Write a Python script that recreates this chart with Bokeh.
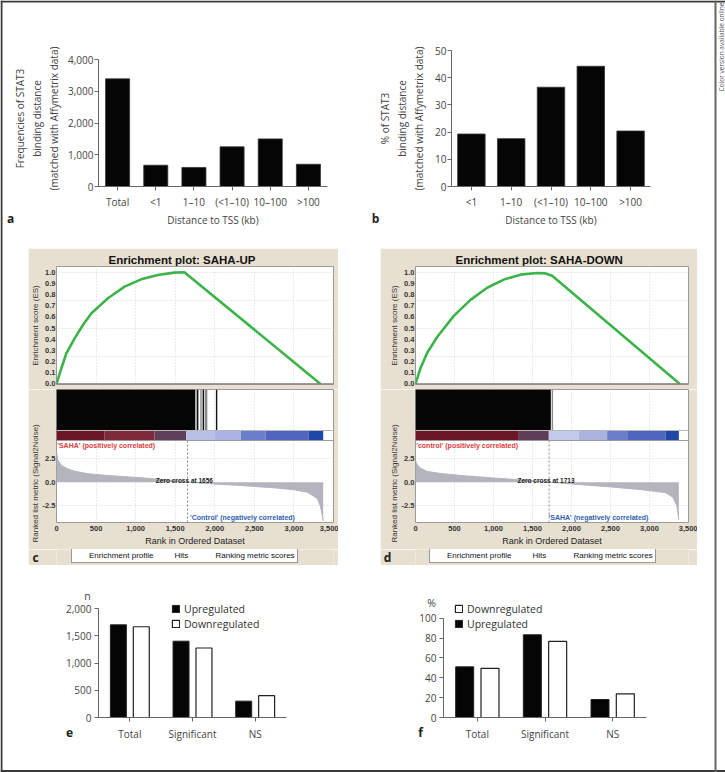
import math
from bokeh.plotting import figure
from bokeh.models import (Range1d, FactorRange, Label, Legend, LegendItem, Span, Spacer, Title,
                          NumeralTickFormatter, FixedTicker, ColumnDataSource)
from bokeh.layouts import row, column
from bokeh.transform import dodge
from bokeh.embed import file_html
from bokeh.resources import INLINE

# ---------------- data ----------------
a_categories = ["Total", "<1", "1–10", "(<1–10)", "10–100", ">100"]
a_counts = [3390, 670, 600, 1250, 1500, 700]
a_yticks = [0, 1000, 2000, 3000, 4000]

b_categories = ["<1", "1–10", "(<1–10)", "10–100", ">100"]
b_percent = [19.3, 17.6, 36.5, 44.2, 20.4]
b_yticks = [0, 10, 20, 30, 40, 50]

ef_categories = ["Total", "Significant", "NS"]
e_up = [1700, 1400, 300]
e_down = [1665, 1275, 400]
e_yticks = [0, 500, 1000, 1500, 2000]
f_up = [51, 83.3, 18.1]
f_down = [49.5, 76.6, 23.8]
f_yticks = [0, 20, 40, 60, 80, 100]

rank_ticks = [0, 500, 1000, 1500, 2000, 2500, 3000, 3500]
es_ticks = [0.0, 0.1, 0.2, 0.3, 0.4, 0.5, 0.6, 0.7, 0.8, 0.9, 1.0]
es_grid = [0.25, 0.5, 0.75, 1.0]
metric_ticks = [-2.5, 0.0, 2.5]

c_es_rank = [0, 63, 126, 231, 336, 441, 650, 860, 1070, 1280, 1490, 1616, 3336]
c_es_score = [0.0, 0.143, 0.277, 0.41, 0.53, 0.634, 0.768, 0.872, 0.937, 0.976, 0.997, 1.0, 0.0]
c_hit_block = [0, 1750]
c_hit_lines = [1763, 1784, 1826, 1855, 1880, 1897, 2023]
c_hit_colors = ["#8a8a8a", "#111111", "#8a8a8a", "#111111", "#8a8a8a", "#8a8a8a", "#111111"]
c_band_edges = [0, 608, 1238, 1637, 1994, 2329, 2644, 3189, 3370]
c_band_colors = ["#6b1627", "#7d2a3b", "#5f4058", "#b9c0e6", "#a9b2e1", "#6a7ecb", "#5065bd", "#1f47a7"]
c_metric_rank = [0, 15, 63, 150, 231, 400, 650, 1070, 1490, 1656, 2000, 2329, 2749, 3000, 3169, 3295, 3336, 3370]
c_metric = [3.2, 2.4, 1.78, 1.4, 1.17, 0.9, 0.71, 0.47, 0.18, 0.0, -0.2, -0.35, -0.6, -0.8, -1.06, -1.73, -2.6, -4.1]
c_zero_cross = 1656

d_es_rank = [0, 64, 150, 278, 491, 705, 919, 1132, 1346, 1560, 1667, 1752, 3389]
d_es_score = [0.0, 0.141, 0.28, 0.42, 0.61, 0.753, 0.862, 0.935, 0.979, 0.994, 0.99, 0.97, 0.0]
d_hit_block = [0, 1735]
d_hit_lines = [1755]
d_hit_colors = ["#8a8a8a"]
d_band_edges = [0, 1325, 1709, 2094, 2457, 2714, 3205, 3376]
d_band_colors = ["#6b1627", "#5f3d58", "#c3c9ea", "#aab2e0", "#6a7ecb", "#5065bd", "#1f47a7"]
d_metric_rank = [0, 20, 60, 150, 300, 600, 1000, 1400, 1713, 2100, 2500, 2900, 3200, 3300, 3350, 3376]
d_metric = [2.3, 1.9, 1.5, 1.15, 0.95, 0.7, 0.45, 0.22, 0.0, -0.25, -0.5, -0.8, -1.1, -1.6, -2.5, -4.0]
d_zero_cross = 1713

# panel letters and unit captions (text, page position in px)
panel_letters = ["a", "b", "c", "d", "e", "f"]
letter_pos = [(10, 218), (375, 218), (35, 557), (387, 557), (69, 732), (420, 732)]
unit_texts = ["n", "%"]
unit_pos = [(87, 595), (431, 602)]

# ---------------- style ----------------
FONT = "Open Sans"
GFONT = "Liberation Sans"
AX = "#666666"
TXT = "#444444"
BEIGE = "#e7e0d1"
PAGE_W, PAGE_H = 725, 772


def style_bar_axes(p):
    p.xgrid.visible = False
    p.ygrid.visible = False
    p.outline_line_color = None
    for ax in (p.xaxis[0], p.yaxis[0]):
        ax.axis_line_color = AX
        ax.major_tick_line_color = AX
        ax.major_tick_out = 4
        ax.major_tick_in = 0
        ax.minor_tick_out = 0
        ax.minor_tick_in = 0
        ax.major_label_text_font = FONT
        ax.major_label_text_font_size = "10px"
        ax.major_label_text_color = TXT
        ax.axis_label_text_font = FONT
        ax.axis_label_text_font_size = "10px"
        ax.axis_label_text_font_style = "normal"
        ax.axis_label_text_color = TXT
    p.xaxis[0].major_label_standoff = 4
    p.yaxis[0].major_label_standoff = 1


def simple_bar(cats, vals, yticks, width, mbl, mbr, frame_px, bar_w, ylabel, ylabel_stand):
    # both top-row panels share the same vertical frame (50..186 px)
    y_end = yticks[-1] * 136.0 / frame_px
    p = figure(x_range=FactorRange(*cats), y_range=Range1d(yticks[0], y_end),
               width=width, height=230, min_border_left=mbl, min_border_right=mbr,
               min_border_top=50, min_border_bottom=44,
               toolbar_location=None, output_backend="svg")
    p.vbar(x=cats, top=vals, width=bar_w, fill_color="#050505", line_color="#333333", line_width=0.8)
    style_bar_axes(p)
    p.yaxis.ticker = FixedTicker(ticks=yticks)
    p.yaxis.bounds = (yticks[0], yticks[-1])
    p.yaxis.formatter = NumeralTickFormatter(format="0,0")
    p.yaxis.axis_label = ylabel
    p.yaxis.axis_label_standoff = ylabel_stand
    p.xaxis.axis_label = "Distance to TSS (kb)"
    p.xaxis.axis_label_standoff = 1
    return p


fig_a = simple_bar(a_categories, a_counts, a_yticks, 350, 85, 33, 127, 0.63,
                   "Frequencies of STAT3\nbinding distance\n(matched with Affymetrix data)", 4)
fig_b = simple_bar(b_categories, b_percent, b_yticks, 339, 67, 64, 136, 0.69,
                   "% of STAT3\nbinding distance\n(matched with Affymetrix data)", 6)


def gsea_panel(title, title_offset, mbl, fw, mbr,
               es_rank, es_score, hit_block, hit_lines, hit_colors, band_edges, band_colors,
               m_rank, m_val, zero, pos_text, neg_text, neg_x, leg_x):
    col_w = mbl + fw + mbr
    xr = Range1d(rank_ticks[0], rank_ticks[-1])
    common = dict(width=col_w, x_range=xr, toolbar_location=None, output_backend="svg",
                  min_border_left=mbl, min_border_right=mbr, border_fill_color=BEIGE,
                  outline_line_color="#9a9a9a")

    def style_axis(ax, standoff=1):
        ax.axis_line_color = None
        ax.major_tick_out = 0
        ax.major_tick_in = 0
        ax.minor_tick_out = 0
        ax.minor_tick_in = 0
        ax.major_label_standoff = standoff
        ax.major_label_text_font = GFONT
        ax.major_label_text_font_size = "7.5px"
        ax.major_label_text_font_style = "bold"
        ax.major_label_text_color = "#333333"

    # ---- enrichment score
    es = figure(height=141, y_range=Range1d(-0.005, 1.052), x_axis_location=None,
                min_border_top=18, min_border_bottom=5, title=title, **common)
    es.title.align = "left"
    es.title.offset = title_offset
    es.title.standoff = 2
    es.title.text_font = GFONT
    es.title.text_font_size = "11.5px"
    es.title.text_font_style = "bold"
    es.title.text_color = "#111111"
    es.xgrid.ticker = FixedTicker(ticks=rank_ticks)
    es.ygrid.ticker = FixedTicker(ticks=es_grid)
    for g in (es.xgrid[0], es.ygrid[0]):
        g.grid_line_color = "#d4d4d4"
        g.grid_line_dash = "1 2"
    ya = es.yaxis[0]
    ya.ticker = FixedTicker(ticks=es_ticks)
    ya.formatter = NumeralTickFormatter(format="0.0")
    style_axis(ya)
    ya.axis_label = "Enrichment score (ES)"
    ya.axis_label_standoff = 2
    ya.axis_label_text_font = GFONT
    ya.axis_label_text_font_size = "8px"
    ya.axis_label_text_font_style = "normal"
    ya.axis_label_text_color = "#333333"
    es.add_layout(Span(location=0, dimension="width", line_color="#7a7a7a", line_width=1.5))
    es.line(es_rank, es_score, line_color="#3cb44a", line_width=2.6)

    # ---- hits, ranked colour bar and ranked list metric share one frame
    lo, hi = -4.29, 4.44                  # metric range shown in the lower 82 px
    per_px = (hi - lo) / 82.0
    cb_top = hi + 10 * per_px             # 10 px colour bar
    top = hi + 51 * per_px                # 41 px of hits above it
    rk = figure(height=160, y_range=Range1d(lo, top), min_border_top=0, min_border_bottom=27,
                **common)
    rk.xgrid.ticker = FixedTicker(ticks=rank_ticks)
    rk.xgrid.bounds = (lo, hi)
    rk.ygrid.ticker = FixedTicker(ticks=[-2.5, 2.5])
    for g in (rk.xgrid[0], rk.ygrid[0]):
        g.grid_line_color = "#d4d4d4"
        g.grid_line_dash = "1 2"
    rk.varea(x=m_rank, y1=0, y2=m_val, fill_color="#b4b4bc")
    rk.line(m_rank, m_val, line_color="#b4b4bc", line_width=1)
    rk.segment(x0=[zero], y0=[lo], x1=[zero], y1=[hi], line_color="#8a8a8a", line_width=1,
               line_dash="2 2")
    rk.quad(left=band_edges[:-1], right=band_edges[1:], bottom=hi, top=cb_top,
            fill_color=band_colors, line_color=None)
    rk.quad(left=[hit_block[0]], right=[hit_block[1]], bottom=cb_top, top=top,
            fill_color="#050505", line_color=None)
    rk.segment(x0=hit_lines, y0=cb_top, x1=hit_lines, y1=top, line_color=hit_colors, line_width=1.4)
    rk.add_layout(Span(location=hi, dimension="width", line_color="#9a9a9a", line_width=1))
    rk.add_layout(Span(location=cb_top, dimension="width", line_color="#b8b8b8", line_width=1))
    rk.add_layout(Label(x=m_rank[0] + 10, y=hi - 0.12, text=pos_text, text_font=GFONT,
                        text_font_size="7px", text_font_style="bold", text_color="#e03a3a",
                        text_baseline="top"))
    rk.add_layout(Label(x=neg_x, y=-3.76, text=neg_text, text_font=GFONT, text_font_size="7px",
                        text_font_style="bold", text_color="#2f5fb0", text_align="center",
                        text_baseline="middle"))
    rk.add_layout(Label(x=zero - 40, y=0.15, text="Zero cross at %d" % zero, text_font=GFONT,
                        text_font_size="6.5px", text_font_style="bold", text_color="#222222",
                        text_align="center", text_baseline="middle"))
    xa = rk.xaxis[0]
    xa.ticker = FixedTicker(ticks=rank_ticks)
    xa.formatter = NumeralTickFormatter(format="0,0")
    style_axis(xa, 3)
    xa.axis_label = "Rank in Ordered Dataset"
    xa.axis_label_standoff = 2
    xa.axis_label_text_font = GFONT
    xa.axis_label_text_font_size = "9px"
    xa.axis_label_text_font_style = "normal"
    xa.axis_label_text_color = "#222222"
    yb = rk.yaxis[0]
    yb.ticker = FixedTicker(ticks=metric_ticks)
    yb.bounds = (lo, hi)
    yb.formatter = NumeralTickFormatter(format="0.0")
    style_axis(yb)
    rk.add_layout(Title(text="Ranked list metric (Signal2Noise)", align="left", offset=-20,
                        standoff=0, text_font=GFONT, text_font_size="8px",
                        text_font_style="normal", text_color="#333333"), "left")

    # ---- legend strip
    lg = figure(width=col_w, height=16, x_range=Range1d(0, 1), y_range=Range1d(0, 1),
                x_axis_location=None, y_axis_location=None, min_border_left=mbl,
                min_border_right=mbr, min_border_top=0, min_border_bottom=0,
                toolbar_location=None, output_backend="svg", border_fill_color=BEIGE,
                background_fill_color=BEIGE, outline_line_color=None)
    lg.xgrid.visible = False
    lg.ygrid.visible = False
    l_es = lg.line(x=[], y=[], line_color="#3cb44a", line_width=2)
    l_hit = lg.line(x=[], y=[], line_color="#222222", line_width=1.5)
    l_met = lg.line(x=[], y=[], line_color="#c4c4cc", line_width=1.5)
    lg.add_layout(Legend(items=[LegendItem(label="Enrichment profile", renderers=[l_es]),
                                LegendItem(label="Hits", renderers=[l_hit]),
                                LegendItem(label="Ranking metric scores", renderers=[l_met])],
                         orientation="horizontal", location=(leg_x, 2),
                         label_text_font=GFONT, label_text_font_size="8px",
                         label_text_color="#111111", glyph_width=13, glyph_height=8,
                         label_height=8, label_standoff=2, spacing=6, padding=2, margin=0,
                         border_line_color="#333333", border_line_width=1,
                         background_fill_color="white", background_fill_alpha=1))
    return column(es, rk, lg)


gsea_c = gsea_panel("Enrichment plot: SAHA-UP", 52, 27, 278, 5,
                    c_es_rank, c_es_score, c_hit_block, c_hit_lines, c_hit_colors,
                    c_band_edges, c_band_colors, c_metric_rank, c_metric, c_zero_cross,
                    "'SAHA' (positively correlated)", "'Control' (negatively correlated)", 2350, 15)
gsea_d = gsea_panel("Enrichment plot: SAHA-DOWN", 40, 35, 273, 9,
                    d_es_rank, d_es_score, d_hit_block, d_hit_lines, d_hit_colors,
                    d_band_edges, d_band_colors, d_metric_rank, d_metric, d_zero_cross,
                    "'control' (positively correlated)", "'SAHA' (negatively correlated)", 2346, 14)


def group_bar(up, down, yticks, width, mbl, mbr, frame_px, off, bw, order, leg_x):
    # both bottom panels share the same vertical frame (600..717 px)
    y_end = yticks[-1] * 117.0 / frame_px
    p = figure(x_range=FactorRange(*ef_categories), y_range=Range1d(yticks[0], y_end),
               width=width, height=200, min_border_left=mbl, min_border_right=mbr,
               min_border_top=28, min_border_bottom=55,
               toolbar_location=None, output_backend="svg")
    src = ColumnDataSource(dict(cat=ef_categories, up=up, down=down))
    r_up = p.vbar(x=dodge("cat", -off, range=p.x_range), top="up", width=bw, source=src,
                  fill_color="#050505", line_color="#222222", line_width=1)
    r_dn = p.vbar(x=dodge("cat", off, range=p.x_range), top="down", width=bw, source=src,
                  fill_color="white", line_color="#222222", line_width=1.2)
    style_bar_axes(p)
    p.yaxis.ticker = FixedTicker(ticks=yticks)
    p.yaxis.bounds = (yticks[0], yticks[-1])
    p.yaxis.formatter = NumeralTickFormatter(format="0,0")
    p.yaxis.major_label_standoff = 3
    p.xaxis.major_label_standoff = 5
    items = {"Upregulated": LegendItem(label="Upregulated", renderers=[r_up]),
             "Downregulated": LegendItem(label="Downregulated", renderers=[r_dn])}
    p.add_layout(Legend(items=[items[k] for k in order], location=(leg_x, 86),
                        orientation="vertical", label_text_font=FONT, label_text_font_size="10.5px",
                        label_text_color="#333333", glyph_width=9, glyph_height=9,
                        label_height=15, label_standoff=4, spacing=0, padding=0, margin=0,
                        border_line_color=None, background_fill_alpha=0))
    return p


fig_e = group_bar(e_up, e_down, e_yticks, 360, 98, 74, 109, 0.183, 0.255,
                  ["Upregulated", "Downregulated"], 73)
fig_f = group_bar(f_up, f_down, f_yticks, 354, 83, 68, 99.3, 0.187, 0.266,
                  ["Downregulated", "Upregulated"], 11)

# transparent overlay: page frame lines, margin note, panel letters and unit captions
overlay = figure(width=PAGE_W, height=PAGE_H, x_range=Range1d(0, PAGE_W),
                 y_range=Range1d(PAGE_H, 0), x_axis_location=None, y_axis_location=None,
                 min_border=0, toolbar_location=None, output_backend="svg",
                 outline_line_color=None, background_fill_alpha=0, border_fill_alpha=0,
                 styles={"position": "absolute", "top": "0px", "left": "0px",
                         "pointer-events": "none", "z-index": "10"})
overlay.xgrid.visible = False
overlay.ygrid.visible = False
for loc, dim, col in ((1, "width", "#3a3a3a"), (770.5, "width", "#3a3a3a"),
                      (1, "height", "#3a3a3a"), (715, "height", "#666666")):
    overlay.add_layout(Span(location=loc, dimension=dim, line_color=col, line_width=2))
overlay.add_layout(Label(x=720.5, y=2, text="Color version available online", angle=math.pi / 2,
                         text_align="right", text_baseline="middle", text_font=FONT,
                         text_font_size="6.5px", text_color="#555555"))
for txt, (x, y) in zip(panel_letters, letter_pos):
    overlay.add_layout(Label(x=x, y=y, text=txt, text_font=FONT, text_font_size="12px",
                             text_font_style="bold", text_color="#222222", text_align="center",
                             text_baseline="middle"))
for txt, (x, y) in zip(unit_texts, unit_pos):
    overlay.add_layout(Label(x=x, y=y, text=txt, text_font=FONT, text_font_size="10.5px",
                             text_color=TXT, text_align="center", text_baseline="middle"))

row1 = row(Spacer(width=10, height=230), fig_a, Spacer(width=15, height=230), fig_b,
           Spacer(width=11, height=230))
row2 = row(Spacer(width=28, height=342),
           column(Spacer(width=310, height=18), gsea_c, Spacer(width=310, height=7)),
           Spacer(width=42, height=342),
           column(Spacer(width=317, height=18), gsea_d, Spacer(width=317, height=7)),
           Spacer(width=28, height=342))
row3 = row(fig_e, fig_f, Spacer(width=11, height=200))

layout = column(row1, row2, row3, overlay, styles={"position": "relative"})

open("out.html", "w").write(file_html(layout, INLINE))
